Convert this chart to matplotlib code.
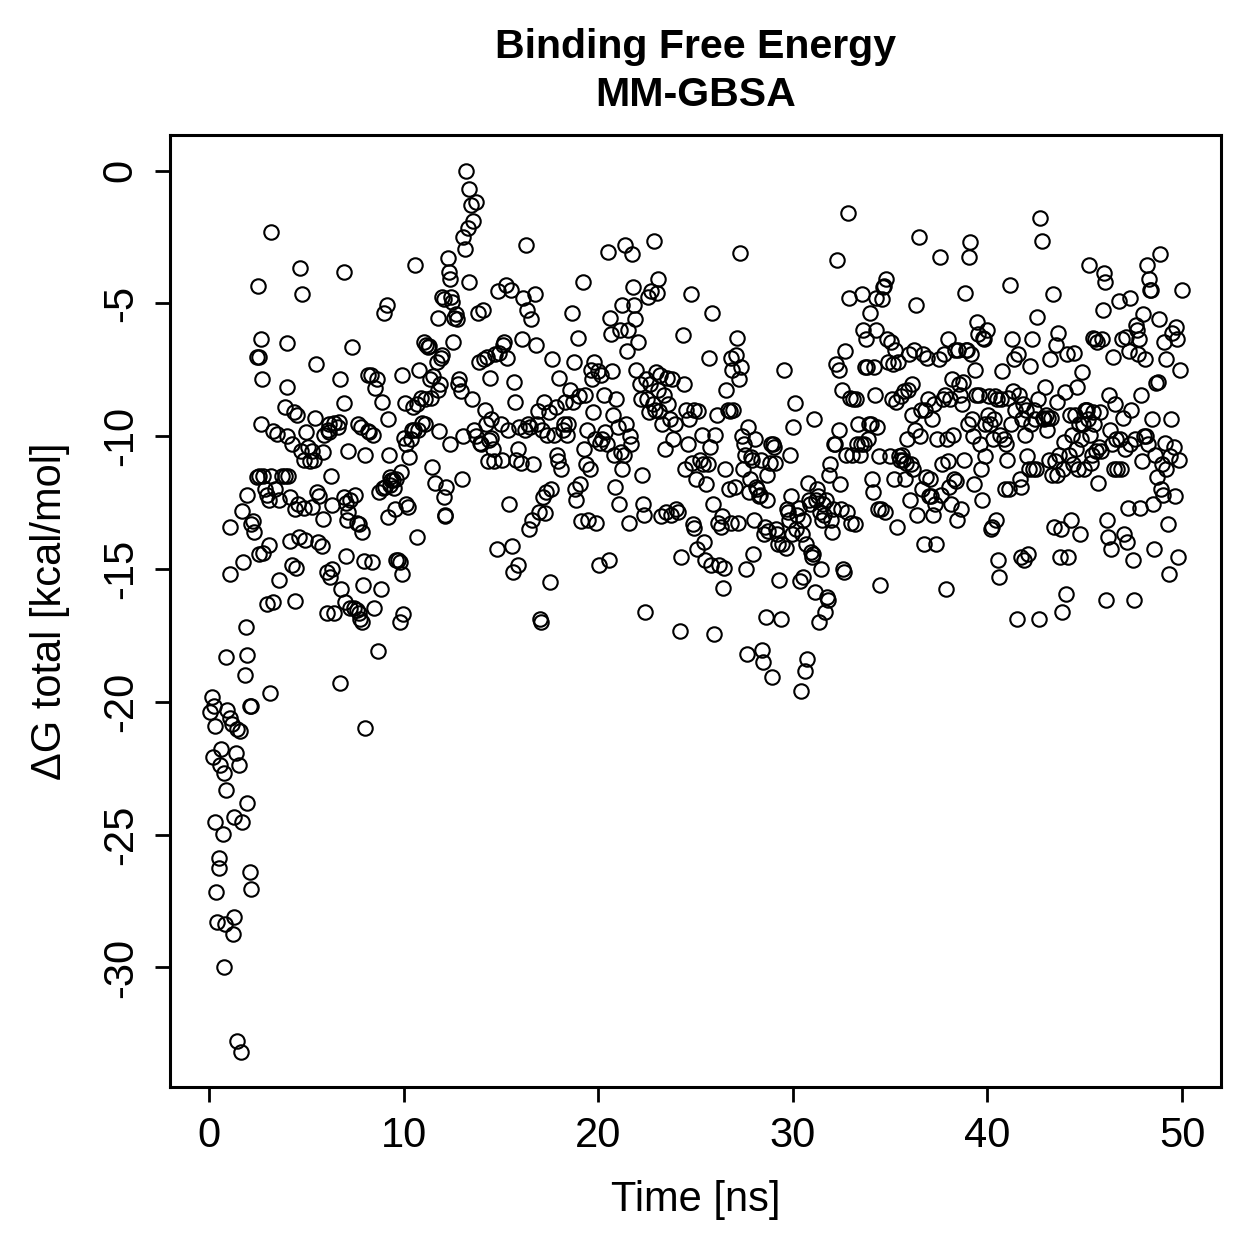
import matplotlib
matplotlib.use('Agg')
import matplotlib.pyplot as plt

# ─── data (time in ns, dG in kcal/mol) ───────────────────────────────────────
t_0_5 = [0.15, 3.13, 0.26, 0.05, 0.92, 2.15, 0.31, 1.08, 1.18, 1.43, 1.59, 0.61, 0.2, 1.38,
         0.56, 1.54, 0.77, 0.87, 1.95, 0.31, 1.28, 1.69, 0.72, 0.51, 0.51, 2.1, 0.36, 2.15,
         0.41, 0.82, 1.28, 1.23, 0.77, 1.43, 1.64,
         1.9, 1.75, 1.1, 1.1, 1.7, 1.95, 2.15, 2.3, 2.25, 1.95, 0.9, 1.85, 2.1,
         2.5, 3.2, 2.45, 2.6, 2.7, 2.75, 2.7, 2.6, 2.45, 2.8, 2.9, 3.0, 3.2, 3.4, 3.6, 3.1,
         2.8, 3.1, 3.0, 3.3, 2.6, 3.3, 3.5, 3.6, 3.75, 3.9, 4.05, 4.0, 4.0, 4.0, 3.9, 4.25,
         4.15, 4.15, 4.4, 4.25, 4.45, 4.4, 4.6, 4.7, 4.8, 4.75, 4.65, 4.55, 4.35, 4.9, 4.9, 4.95]
g_0_5 = [-19.83, -19.65, -20.17, -20.4, -20.29, -20.17, -20.92, -20.59, -20.85, -21.04, -21.11,
         -21.79, -22.09, -21.94, -22.39, -22.39, -22.66, -23.3, -23.79, -24.54, -24.35, -24.54,
         -24.96, -25.86, -26.27, -26.42, -27.14, -27.06, -28.3, -28.38, -28.11, -28.75, -30.0,
         -32.78, -33.2,
         -17.2, -14.75, -15.2, -13.4, -12.8, -12.2, -13.3, -13.6, -13.2, -18.25, -18.3, -19.0, -20.15,
         -4.35, -2.3, -7.0, -7.0, -6.35, -7.85, -9.55, -11.5, -11.55, -11.5, -12.0, -12.2, -11.5,
         -12.0, -12.4, -12.4, -14.4, -14.1, -16.3, -16.25, -14.45, -9.8, -9.9, -15.4, -11.5, -11.5,
         -11.5, -10.0, -8.15, -6.5, -8.9, -10.3, -12.3, -13.95, -12.75, -14.85, -14.95, -16.2,
         -12.55, -3.65, -4.65, -10.55, -13.8, -9.2, -9.1, -10.9, -12.7, -13.9]

t_5_10 = [5.0, 5.1, 5.3, 5.2, 5.4, 5.5, 5.45, 5.3, 5.55, 5.6, 5.65, 5.85, 5.8, 5.85, 5.9, 6.1,
          6.15, 6.15, 6.25, 6.05, 6.2, 6.35, 6.05, 6.45, 6.3, 6.45, 6.65, 6.7, 6.75, 6.8, 6.75,
          6.95, 6.95, 6.95, 7.05, 7.15, 7.25, 7.1, 7.15, 7.05, 7.0, 7.25, 7.35, 7.45, 7.5,
          7.6, 7.7, 7.75, 7.85, 7.7, 7.6, 7.65, 7.8, 7.85, 7.95, 7.9, 8.0, 8.0, 8.2, 8.15, 8.35,
          8.25, 8.45, 8.4, 8.55, 8.65, 8.5, 8.7, 8.75, 8.85, 8.95, 9.05, 9.0, 9.15, 8.9, 9.2,
          9.25, 9.3, 9.35, 9.45, 9.3, 9.2, 9.5, 9.6, 9.55, 9.6, 9.8, 9.9, 9.7, 9.8, 9.95, 9.85,
          9.9, 10.0]
g_5_10 = [-9.85, -10.4, -10.55, -10.95, -10.9, -7.3, -9.3, -12.65, -12.1, -14.0, -12.25, -10.6,
          -14.15, -13.1, -9.95, -9.75, -9.85, -9.55, -11.5, -15.1, -15.3, -15.0, -16.65, -16.65,
          -12.6, -9.5, -9.65, -9.45, -7.85, -15.75, -19.3, -3.8, -8.75, -12.3, -12.5, -12.85,
          -12.4, -13.15, -10.55, -14.5, -16.25, -16.45, -6.65, -16.45, -12.2,
          -16.55, -16.65, -16.9, -17.0, -13.3, -13.25, -9.55, -9.65, -13.6, -14.7, -15.6, -10.7,
          -21.0, -9.8, -7.7, -7.7, -9.85, -9.95, -14.75, -8.2, -7.85, -16.45, -18.1, -12.1,
          -15.75, -11.95, -11.9, -5.35, -5.05, -8.7, -9.35, -10.7, -11.55, -11.65, -11.65,
          -11.85, -13.05, -11.95, -11.6, -12.75, -14.65, -14.75, -15.2, -14.65, -17.0, -16.7,
          -11.35, -7.7, -10.05]

t_10_15 = [10.1, 10.15, 10.15, 10.25, 10.3, 10.4, 10.45, 10.5, 10.55, 10.6, 10.7, 10.75, 10.7,
           10.8, 10.9, 10.95, 11.1, 11.1, 11.05, 11.15, 11.25, 11.3, 11.35, 11.4, 11.45, 11.5,
           11.6, 11.7, 11.75, 11.75, 11.8, 11.85, 11.95, 12.0, 12.0, 12.1, 12.1, 12.15, 12.15,
           12.2, 12.3, 12.35, 12.4, 12.45, 12.4, 12.5, 12.55,
           12.6, 12.7, 12.75, 12.8, 12.85, 12.95, 13.0, 13.05, 13.05, 13.15, 13.2, 13.3, 13.35,
           13.45, 13.55, 13.7, 13.35, 13.5, 13.6, 13.7, 13.85, 13.9, 13.95, 14.0, 14.1, 14.15,
           14.2, 14.25, 14.3, 14.35, 14.4, 14.45, 14.5, 14.5, 14.6, 14.65, 14.7, 14.8, 14.85,
           14.9, 15.0, 15.05]
g_10_15 = [-8.75, -10.3, -12.55, -12.65, -10.8, -10.1, -9.75, -8.9, -9.75, -3.55, -8.8, -9.75,
           -13.8, -7.5, -8.55, -9.5, -8.6, -9.55, -6.45, -6.55, -6.65, -6.6, -7.85, -8.55,
           -11.15, -7.75, -11.75, -7.2, -5.55, -8.25, -9.8, -8.05, -7.05, -6.95, -4.75, -4.85,
           -12.3, -12.95, -13.0, -11.9, -3.3, -3.8, -4.1, -4.75, -10.3, -4.95, -6.45,
           -5.55, -5.4, -5.6, -8.05, -7.85, -8.3, -11.6, -10.0, -2.5, -2.95, 0.0, -2.15, -0.7,
           -1.3, -1.9, -1.2, -4.2, -8.6, -9.75, -10.0, -5.35, -7.2, -10.25, -10.3, -5.25, -7.1,
           -9.0, -9.55, -7.0, -10.95, -10.15, -7.8, -9.35, -10.05, -10.5, -10.95, -6.9, -14.25,
           -4.55, -6.85, -9.55, -10.9]

t_15_20 = [15.1, 15.15, 15.25, 15.3, 15.35, 15.4, 15.5, 15.55, 15.65, 15.7, 15.75, 15.8, 15.9,
           15.9, 15.95, 16.05, 16.1, 16.15, 16.25, 16.3, 16.35, 16.4, 16.45, 16.5, 16.55, 16.6,
           16.65, 16.75, 16.8, 16.85, 16.9, 16.95, 17.0, 17.05, 17.1, 17.15, 17.2, 17.25, 17.3,
           17.35, 17.45, 17.55, 17.6,
           17.65, 17.75, 17.85, 17.9, 17.95, 18.0, 18.1, 18.2, 18.25, 18.3, 18.4, 18.45, 18.55,
           18.65, 18.7, 18.75, 18.8, 18.85, 18.95, 19.0, 19.05, 19.1, 19.2, 19.25, 19.3, 19.35,
           19.45, 19.5, 19.6, 19.65, 19.7, 19.75, 19.8, 19.85, 19.9, 20.0, 20.05]
g_15_20 = [-6.55, -6.45, -4.3, -7.05, -9.75, -12.55, -4.5, -14.15, -15.1, -7.95, -8.7, -10.9,
           -14.85, -10.5, -9.65, -11.0, -6.35, -4.8, -9.75, -2.8, -5.25, -9.55, -13.5, -9.65,
           -5.6, -13.15, -11.05, -4.65, -6.55, -9.55, -9.05, -12.85, -16.9, -17.0, -9.75,
           -12.3, -8.7, -12.9, -12.1, -9.95, -9.1, -15.5, -12.0,
           -7.1, -9.95, -8.9, -10.7, -10.95, -7.8, -11.25, -9.75, -9.55, -8.7, -9.95, -9.55,
           -8.25, -5.35, -8.7, -7.2, -12.0, -12.4, -6.3, -8.5, -11.8, -13.2, -4.2, -10.5, -8.45,
           -11.05, -9.75, -13.15, -11.25, -7.5, -7.85, -9.1, -7.2, -10.1, -13.25, -7.55, -14.85]

t_20_25 = [20.1, 20.15, 20.2, 20.3, 20.35, 20.45, 20.5, 20.55, 20.6, 20.65, 20.7, 20.75, 20.8,
           20.85, 20.9, 21.0, 21.05, 21.1, 21.15, 21.2, 21.25, 21.35, 21.4, 21.45, 21.5, 21.55,
           21.6, 21.65, 21.7, 21.75, 21.8, 21.85, 21.9, 21.95, 22.05, 22.15, 22.2, 22.25, 22.3,
           22.35, 22.4, 22.45, 22.5,
           22.55, 22.6, 22.65, 22.7, 22.8, 22.85, 22.9, 22.95, 23.0, 23.05, 23.1, 23.15, 23.2,
           23.25, 23.3, 23.4, 23.45, 23.5, 23.55, 23.6, 23.7, 23.75, 23.8, 23.85, 23.95, 24.0,
           24.1, 24.2, 24.25, 24.35, 24.4, 24.45, 24.5, 24.6, 24.65, 24.75, 24.8, 24.85, 24.9,
           24.95]
g_20_25 = [-10.25, -7.7, -10.1, -8.45, -9.85, -10.3, -3.05, -14.65, -5.55, -6.15, -7.55, -9.2,
           -10.7, -11.9, -8.6, -9.65, -12.55, -6.0, -10.6, -11.25, -5.05, -10.7, -2.8, -9.55,
           -6.8, -6.0, -13.25, -10.0, -10.3, -3.15, -4.4, -5.05, -5.6, -7.5, -6.45, -8.05, -8.6,
           -11.45, -12.55, -12.95, -16.6, -7.85, -8.6,
           -4.75, -9.1, -8.05, -4.55, -8.8, -2.65, -9.0, -7.6, -4.6, -4.1, -8.25, -9.05, -7.7,
           -13.0, -9.55, -8.45, -10.5, -12.85, -7.8, -8.8, -9.35, -12.95, -7.85, -10.1, -9.55,
           -12.75, -12.85, -17.35, -14.55, -6.2, -8.05, -11.25, -9.0, -10.3, -9.35, -4.65, -11.0,
           -13.3, -13.45, -9.0]

t_25_30 = [25.05, 25.1, 25.15, 25.25, 25.35, 25.4, 25.45, 25.5, 25.55, 25.65, 25.7, 25.75, 25.8,
           25.85, 25.9, 25.95, 26.0, 26.1, 26.15, 26.2, 26.3, 26.35, 26.4, 26.45, 26.5, 26.55,
           26.65, 26.7, 26.75, 26.8, 26.85, 26.9, 26.95, 27.05, 27.1, 27.15, 27.2, 27.25, 27.3,
           27.35, 27.4, 27.45, 27.5,
           27.55, 27.6, 27.65, 27.7, 27.75, 27.8, 27.85, 27.9, 27.95, 28.0, 28.05, 28.1, 28.15,
           28.25, 28.3, 28.35, 28.4, 28.45, 28.5, 28.55, 28.6, 28.65, 28.7, 28.75, 28.85, 28.9,
           28.95, 29.0, 29.05, 29.1, 29.15, 29.2, 29.25, 29.3, 29.4, 29.45, 29.55, 29.65, 29.7,
           29.75, 29.8, 29.85, 29.9, 29.95, 30.0]
g_25_30 = [-11.6, -14.25, -9.05, -10.9, -9.95, -11.05, -14.0, -14.65, -11.8, -11.05, -7.05,
           -10.4, -14.85, -5.35, -12.55, -17.45, -9.95, -9.2, -13.25, -14.85, -13.4, -13.0,
           -15.7, -14.95, -11.25, -8.25, -9.0, -12.0, -9.05, -7.05, -13.25, -7.5, -9.0, -11.9,
           -6.95, -6.3, -13.25, -7.85, -3.1, -7.4, -10.0, -11.25, -10.3,
           -10.7, -15.0, -18.2, -9.65, -12.1, -11.6, -10.8, -10.9, -14.45, -13.15, -10.1, -11.9,
           -12.0, -12.25, -12.2, -10.9, -18.05, -18.5, -13.7, -13.4, -16.8, -11.45, -12.4,
           -13.55, -11.0, -10.3, -19.05, -10.3, -10.4, -11.0, -13.5, -13.7, -14.05, -15.4, -16.9,
           -14.05, -7.5, -14.2, -12.75, -12.85, -13.15, -10.7, -12.25, -13.7, -9.65]

t_30_35 = [30.1, 30.15, 30.2, 30.3, 30.35, 30.4, 30.45, 30.5, 30.55, 30.65, 30.7, 30.75, 30.8,
           30.85, 30.9, 30.95, 31.0, 31.05, 31.1, 31.15, 31.2, 31.25, 31.3, 31.35, 31.4, 31.45,
           31.5, 31.55, 31.6, 31.65, 31.7, 31.75, 31.8, 31.85, 31.9, 31.95, 32.0, 32.05, 32.1,
           32.15, 32.2, 32.25, 32.35, 32.4, 32.45, 32.5, 32.55,
           32.6, 32.65, 32.7, 32.75, 32.8, 32.85, 32.9, 32.95, 33.0, 33.05, 33.1, 33.2, 33.25,
           33.3, 33.35, 33.45, 33.5, 33.55, 33.6, 33.65, 33.7, 33.75, 33.8, 33.85, 33.9, 33.95,
           34.0, 34.05, 34.1, 34.15, 34.2, 34.25, 34.3, 34.35, 34.4, 34.45, 34.5, 34.55, 34.6,
           34.65, 34.7, 34.75, 34.8, 34.85, 34.9, 35.0]
g_30_35 = [-8.75, -13.5, -12.95, -12.7, -15.45, -19.6, -13.7, -13.15, -15.3, -18.85, -14.05,
           -18.4, -11.75, -12.4, -12.55, -14.35, -14.55, -14.45, -9.35, -15.85, -12.4, -12.0,
           -12.25, -17.0, -12.85, -15.0, -13.15, -12.55, -12.95, -16.6, -12.4, -16.05, -16.15,
           -11.45, -11.05, -13.15, -13.6, -12.75, -10.3, -10.3, -7.3, -3.35, -7.5, -9.75, -11.8,
           -12.75, -8.25,
           -15.0, -15.1, -6.8, -10.7, -12.85, -1.6, -4.8, -8.55, -13.25, -10.7, -8.6, -13.3,
           -8.6, -10.3, -9.55, -10.7, -10.3, -4.65, -6.0, -10.3, -7.4, -6.35, -7.4, -10.1, -9.55,
           -5.35, -9.55, -11.6, -12.1, -7.4, -8.45, -4.8, -6.0, -9.65, -12.75, -10.75, -15.6,
           -12.75, -4.85, -4.4, -4.35, -12.85, -4.1, -6.35, -7.2, -10.75]

t_35_40 = [35.05, 35.1, 35.15, 35.2, 35.25, 35.3, 35.35, 35.4, 35.45, 35.5, 35.55, 35.6, 35.65,
           35.7, 35.75, 35.8, 35.85, 35.9, 35.95, 36.0, 36.05, 36.1, 36.15, 36.2, 36.25, 36.3,
           36.35, 36.4, 36.5, 36.55, 36.6, 36.65, 36.7, 36.75, 36.8, 36.85, 36.9, 36.95, 37.0,
           37.05, 37.1, 37.15, 37.2, 37.25, 37.3, 37.35, 37.4,
           37.5, 37.55, 37.6, 37.65, 37.7, 37.75, 37.8, 37.85, 37.9, 37.95, 38.0, 38.05, 38.1,
           38.15, 38.2, 38.25, 38.3, 38.35, 38.4, 38.45, 38.5, 38.55, 38.6, 38.65, 38.7, 38.75,
           38.8, 38.85, 38.9, 38.95, 39.0, 39.05, 39.1, 39.15, 39.2, 39.25, 39.3, 39.35, 39.4,
           39.45, 39.5, 39.55, 39.6, 39.65, 39.7, 39.75, 39.8, 39.85, 39.9]
g_35_40 = [-6.45, -8.6, -7.3, -11.6, -6.75, -8.7, -13.4, -7.2, -10.75, -10.9, -8.5, -10.7,
           -10.9, -8.3, -11.6, -11.0, -10.1, -8.25, -6.9, -12.4, -11.05, -8.05, -9.2, -11.25,
           -6.75, -9.75, -5.05, -12.95, -2.5, -10.0, -9.0, -12.0, -6.9, -14.05, -9.0, -11.55,
           -7.05, -8.6, -12.25, -11.6, -12.25, -9.35, -12.95, -8.8, -12.55, -14.05, -10.1,
           -7.1, -3.25, -12.2, -11.05, -8.6, -6.9, -8.45, -15.75, -10.1, -10.95, -6.35, -11.9,
           -8.6, -12.55, -7.85, -9.95, -11.6, -6.75, -11.7, -13.15, -6.75, -8.05, -8.45, -12.75,
           -8.8, -7.95, -10.9, -4.6, -6.75, -6.75, -9.55, -3.25, -2.7, -6.9, -9.35, -10.0, -11.8,
           -7.5, -8.45, -5.7, -6.15, -8.45, -10.3, -11.25, -12.4, -6.3, -6.35, -10.75, -9.55]

t_40_45 = [40.0, 40.05, 40.1, 40.15, 40.2, 40.25, 40.3, 40.35, 40.4, 40.45, 40.5, 40.55, 40.6,
           40.65, 40.7, 40.75, 40.85, 40.9, 40.95, 41.0, 41.05, 41.1, 41.15, 41.2, 41.25, 41.3,
           41.35, 41.4, 41.5, 41.55, 41.6, 41.65, 41.7, 41.75, 41.8, 41.85, 41.9, 41.95, 42.0,
           42.05, 42.1, 42.15, 42.2, 42.25, 42.3, 42.35, 42.4, 42.45,
           42.5, 42.55, 42.6, 42.65, 42.7, 42.8, 42.85, 42.9, 42.95, 43.0, 43.05, 43.1, 43.15,
           43.2, 43.25, 43.3, 43.35, 43.4, 43.45, 43.5, 43.55, 43.6, 43.65, 43.7, 43.75, 43.8,
           43.85, 43.9, 43.95, 44.0, 44.05, 44.1, 44.15, 44.2, 44.25, 44.3, 44.35, 44.4, 44.45,
           44.5, 44.55, 44.6, 44.65, 44.7, 44.75, 44.8, 44.85, 44.9, 44.95]
g_40_45 = [-6.0, -9.2, -8.5, -9.55, -13.5, -13.4, -10.1, -9.35, -8.5, -13.15, -8.6, -14.65,
           -15.3, -9.95, -8.6, -7.55, -10.1, -12.0, -10.3, -10.9, -8.55, -12.0, -4.3, -9.55,
           -6.35, -8.3, -7.1, -9.0, -16.9, -6.9, -8.45, -11.6, -14.55, -11.9, -9.35, -8.8,
           -14.65, -9.95, -9.0, -10.75, -14.45, -11.25, -7.35, -9.55, -6.35, -11.25, -9.0, -9.35,
           -11.25, -5.5, -8.6, -16.9, -1.8, -2.65, -9.3, -9.35, -8.15, -9.2, -9.75, -9.3, -10.9,
           -7.1, -9.3, -11.45, -4.65, -13.4, -10.95, -6.55, -11.45, -8.7, -6.1, -10.7, -14.55,
           -13.5, -16.6, -11.25, -10.2, -8.35, -15.95, -6.9, -14.55, -10.7, -9.2, -13.15, -9.95,
           -11.05, -6.85, -9.2, -10.5, -8.15, -11.25, -9.55, -13.7, -10.1, -7.6, -9.55, -11.25]

t_45_50 = [45.0, 45.05, 45.1, 45.15, 45.2, 45.25, 45.3, 45.35, 45.4, 45.45, 45.5, 45.55, 45.6,
           45.65, 45.7, 45.75, 45.8, 45.85, 45.9, 45.95, 46.0, 46.05, 46.1, 46.15, 46.2, 46.25,
           46.3, 46.35, 46.4, 46.45, 46.5, 46.55, 46.6, 46.65, 46.75, 46.8, 46.85, 46.9, 46.95,
           47.0, 47.05, 47.1, 47.15, 47.2, 47.25, 47.3, 47.35, 47.4,
           47.5, 47.55, 47.6, 47.65, 47.7, 47.75, 47.8, 47.85, 47.9, 47.95, 48.0, 48.05, 48.1,
           48.15, 48.2, 48.25, 48.3, 48.35, 48.4, 48.45, 48.5, 48.55, 48.6, 48.65, 48.7, 48.75,
           48.8, 48.85, 48.9, 48.95, 49.0, 49.05, 49.1, 49.15, 49.2, 49.3, 49.35, 49.4, 49.45,
           49.5, 49.6, 49.65, 49.7, 49.75, 49.8, 49.85, 49.9, 50.0]
g_45_50 = [-9.0, -9.0, -9.0, -9.35, -3.55, -9.95, -11.0, -10.7, -6.3, -9.1, -9.55, -6.35, -10.55,
           -6.45, -11.75, -10.4, -9.1, -10.55, -6.35, -5.25, -3.85, -4.2, -16.15, -13.15, -13.8,
           -8.45, -9.75, -14.25, -10.3, -7.0, -11.25, -8.8, -10.1, -11.25, -4.9, -10.1, -11.25,
           -6.35, -9.3, -13.7, -10.5, -6.25, -14.0, -12.7, -6.8, -10.3, -4.8, -9.0,
           -14.65, -16.15, -10.1, -5.8, -6.0, -6.9, -6.35, -12.7, -8.45, -10.95, -5.4, -10.0,
           -7.1, -10.0, -3.55, -10.3, -4.1, -4.5, -4.5, -9.35, -12.55, -14.25, -10.7, -8.0,
           -11.55, -7.95, -5.6, -3.15, -12.0, -11.05, -12.2, -6.45, -10.25, -11.25, -7.1, -13.3,
           -15.2, -10.75, -9.35, -6.1, -10.4, -12.25, -5.9, -6.35, -14.55, -10.9, -7.5, -4.5]

time_ns = t_0_5 + t_5_10 + t_10_15 + t_15_20 + t_20_25 + t_25_30 + t_30_35 + t_35_40 + t_40_45 + t_45_50
dg_total = g_0_5 + g_5_10 + g_10_15 + g_15_20 + g_20_25 + g_25_30 + g_30_35 + g_35_40 + g_40_45 + g_45_50

x_ticks = [0, 10, 20, 30, 40, 50]
y_ticks = [0, -5, -10, -15, -20, -25, -30]

# ─── plot (R base-graphics look) ─────────────────────────────────────────────
plt.rcParams['font.family'] = ['Liberation Sans', 'DejaVu Sans']

fig = plt.figure(figsize=(6.295, 6.295), dpi=200)
ax = fig.add_axes([0.135, 0.1366, 0.8348, 0.7562])

ax.plot(time_ns, dg_total, linestyle='none', marker='o', markersize=5.2,
        markerfacecolor='none', markeredgecolor='black', markeredgewidth=0.75)

ax.set_xlim(-2, 52)
ax.set_ylim(-34.5, 1.34)
ax.set_xticks(x_ticks)
ax.set_xticklabels([str(v) for v in x_ticks])
ax.set_yticks(y_ticks)
ax.set_yticklabels([str(v) for v in y_ticks], rotation=90, va='center')
ax.tick_params(direction='out', length=5.5, width=1.0, labelsize=15, pad=5, colors='black')
for sp in ax.spines.values():
    sp.set_linewidth(1.1)

fig.text(0.5524, 0.9627, 'Binding Free Energy', ha='center', va='center',
         fontsize=14.8, fontweight='bold')
fig.text(0.5524, 0.9245, 'MM-GBSA', ha='center', va='center',
         fontsize=14.8, fontweight='bold')
fig.text(0.5524, 0.0469, 'Time [ns]', ha='center', va='center', fontsize=15)
fig.text(0.0397, 0.5147, 'ΔG total [kcal/mol]', ha='center', va='center',
         rotation=90, fontsize=15)

fig.savefig('out.png', dpi=200)
